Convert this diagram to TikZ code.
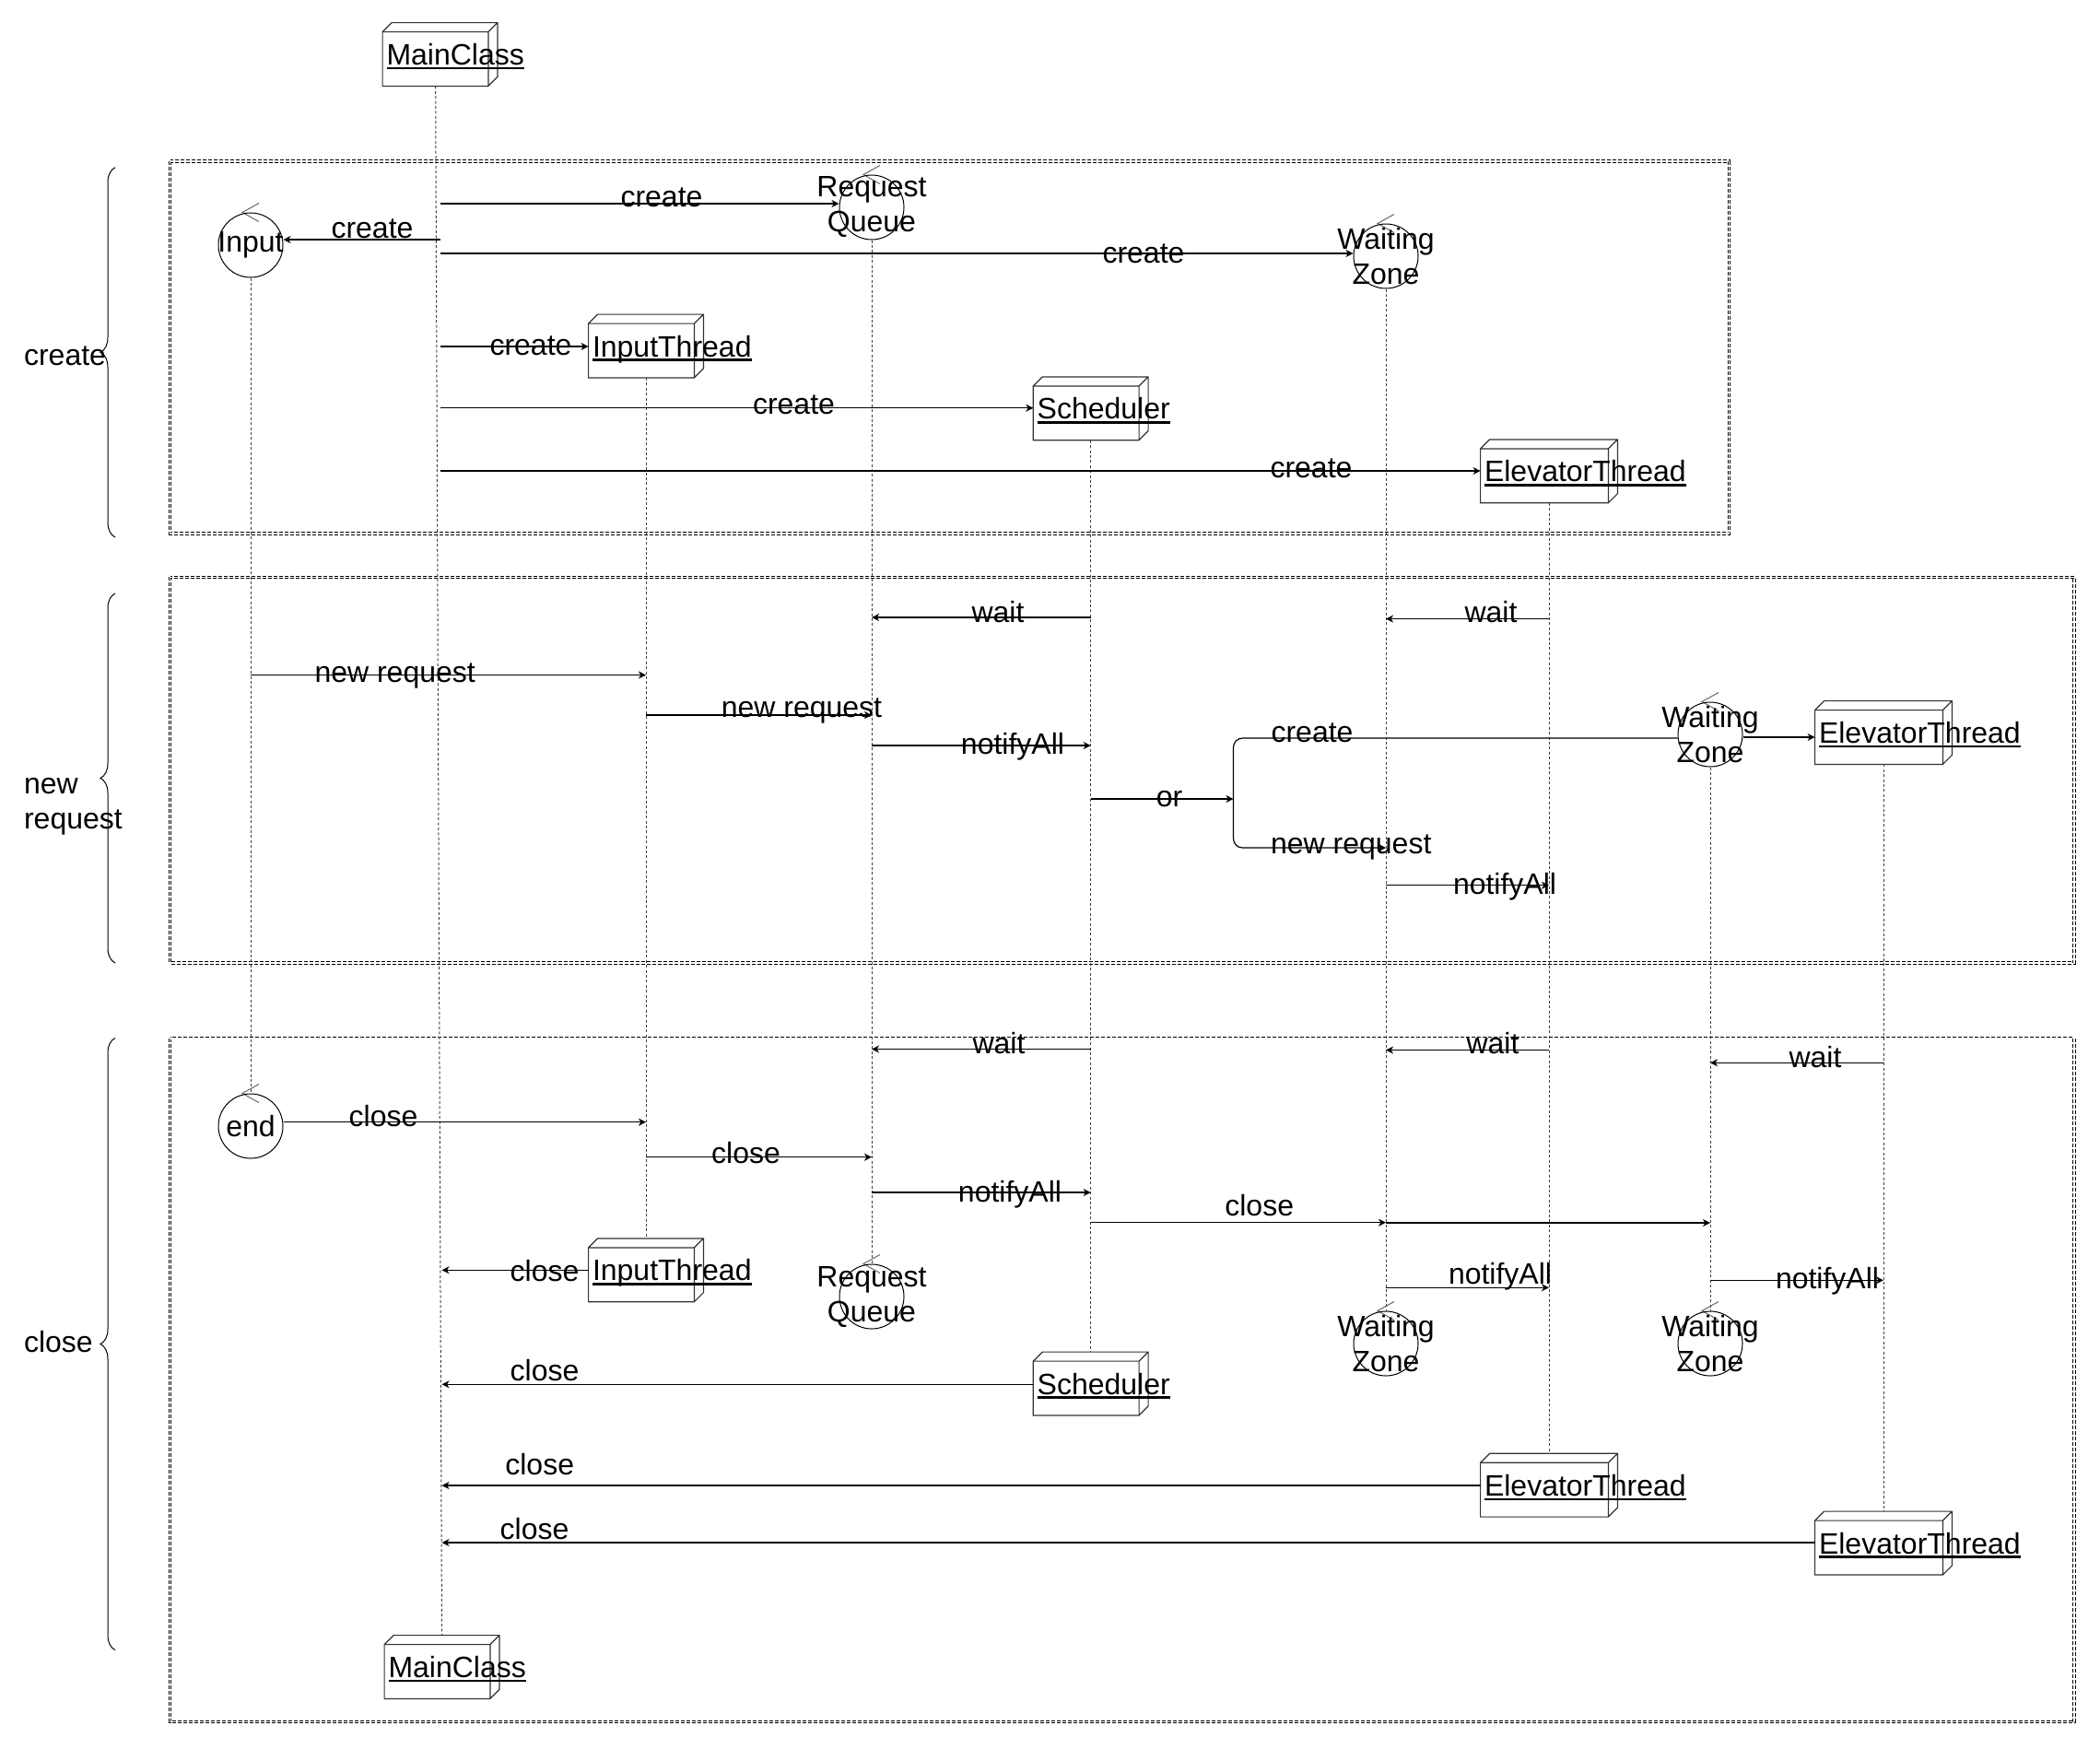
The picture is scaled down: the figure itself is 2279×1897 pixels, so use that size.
\documentclass[tikz,border=0pt]{standalone}
\usepackage{fontspec}
\setmainfont{Liberation Sans}
\usetikzlibrary{arrows.meta}
\usetikzlibrary{decorations.pathreplacing}

\newcommand{\objname}[1]{\hspace*{2pt}\setbox0\hbox{#1}\rlap{\rule[-2.35pt]{\wd0}{1.2pt}}\box0}

\tikzset{
  obj/.style={text width=#1, inner sep=0pt, minimum height=34pt, text height=11.5pt, text depth=0pt, align=left,
    append after command={\pgfextra{\draw[line width=0.6pt, black!80]
      (\tikzlastnode.south west) rectangle ([xshift=-5pt,yshift=-5pt]\tikzlastnode.north east)
      ([yshift=-5pt]\tikzlastnode.north west) -- ([xshift=5pt]\tikzlastnode.north west) -- (\tikzlastnode.north east)
      -- ([yshift=5pt]\tikzlastnode.south east) -- ([xshift=-5pt]\tikzlastnode.south east)
      ([xshift=-5pt,yshift=-5pt]\tikzlastnode.north east) -- (\tikzlastnode.north east);}}},
  obj/.default=62pt,
  ctrl/.style={circle, draw, line width=0.5pt, minimum size=35pt, inner sep=0pt,
    append after command={\pgfextra{\draw[line width=0.5pt, black!60]
      ([xshift=4.5pt,yshift=5pt]\tikzlastnode.north) -- ([xshift=-4.5pt]\tikzlastnode.north)
      -- ([xshift=4.5pt,yshift=-5pt]\tikzlastnode.north);}}},
  life/.style={line width=0.5pt, black!75, dash pattern=on 1.5pt off 1.2pt},
  msg/.style={line width=0.6pt, -{Stealth[length=4pt,width=4pt,inset=1.2pt]}},
  lbl/.style={anchor=base},
  region/.style={draw, double, double distance=0.8pt, line width=0.45pt, dash pattern=on 2pt off 1pt},
  grpbrace/.style={decorate, decoration={brace, amplitude=8pt}, line width=0.5pt},
}

\begin{document}
\begin{tikzpicture}[x=0.5pt, y=-0.5pt, font=\fontsize{16}{19}\selectfont]
  \useasboundingbox (0,0) rectangle (2279,1897);

  \draw[region] (184.6,174.8) rectangle (1876.5,578.8);
  \draw[region] (184.6,626.4) rectangle (2251,1045);
  \draw[region] (184.6,1126.7) rectangle (2251,1868.5);

  \draw[grpbrace] (125,583) -- (125,181.7);
  \draw[grpbrace] (125,1045) -- (125,643.9);
  \draw[grpbrace] (125,1790.6) -- (125,1126.4);
  \node[anchor=base west] (gcreate) at (19,396) {create};
  \node[anchor=base west, align=left] (gnew) at (19,899) {new\\request};
  \node[anchor=base west] (gclose) at (19,1467) {close};

  \node[obj] (mc1) at (477.5,59) {\objname{MainClass}};
  \node[ctrl, label=center:Input] (inp) at (272,266) {};
  \node[ctrl, label={[align=center]center:Request\\Queue}] (rq1) at (946,225) {};
  \node[ctrl, label={[align=center]center:Waiting\\Zone}] (wz1) at (1504,278) {};
  \node[obj] (it1) at (701,375.5) {\objname{InputThread}};
  \node[obj] (sch1) at (1183.7,443.3) {\objname{Scheduler}};
  \node[obj=74pt] (et1) at (1681,511.3) {\objname{ElevatorThread}};
  \node[ctrl, label={[align=center]center:Waiting\\Zone}] (wz2) at (1856,797) {};
  \node[obj=74pt] (et2) at (2044,795) {\objname{ElevatorThread}};
  \node[ctrl, label=center:end] (endc) at (272,1222) {};
  \node[obj] (it2) at (701,1378.3) {\objname{InputThread}};
  \node[ctrl, label={[align=center]center:Request\\Queue}] (rq2) at (946,1407) {};
  \node[ctrl, label={[align=center]center:Waiting\\Zone}] (wz3) at (1504,1458) {};
  \node[ctrl, label={[align=center]center:Waiting\\Zone}] (wz4) at (1856,1458) {};
  \node[obj] (sch2) at (1183.7,1501.5) {\objname{Scheduler}};
  \node[obj=74pt] (et3) at (1681,1611.7) {\objname{ElevatorThread}};
  \node[obj=74pt] (et4) at (2044,1674.5) {\objname{ElevatorThread}};
  \node[obj] (mc2) at (479.5,1809) {\objname{MainClass}};

  \draw[life] ([xshift=-2.4pt]mc1.south) -- (mc2.north);
  \draw[life] (inp.south) -- (endc.north);
  \draw[life] (rq1.south) -- (rq2.north);
  \draw[life] (wz1.south) -- (wz3.north);
  \draw[life] (it1.south) -- (it2.north);
  \draw[life] (sch1.south) -- (sch2.north);
  \draw[life] (et1.south) -- (et3.north);
  \draw[life] (wz2.south) -- (wz4.north);
  \draw[life] (et2.south) -- (et4.north);

  \draw[msg] (mc1 |- 0,260) -- (inp.east |- 0,260);
  \node[lbl] (m1) at (404,258.3) {create};
  \draw[msg] (mc1 |- 0,221) -- (rq1.west |- 0,221);
  \node[lbl] (m2) at (718,224) {create};
  \draw[msg] (mc1 |- 0,275) -- (wz1.west |- 0,275);
  \node[lbl] (m3) at (1241,285) {create};
  \draw[msg] (mc1 |- 0,376) -- (it1.west |- 0,376);
  \node[lbl] (m4) at (576,385) {create};
  \draw[msg] (mc1 |- 0,442.7) -- (sch1.west |- 0,442.7);
  \node[lbl] (m5) at (861.5,449.3) {create};
  \draw[msg] (mc1 |- 0,511) -- (et1.west |- 0,511);
  \node[lbl] (m6) at (1423,518) {create};

  \draw[msg] (sch1 |- 0,670) -- (rq1 |- 0,670);
  \node[lbl] (n1) at (1083,675) {wait};
  \draw[msg] (et1 |- 0,671.5) -- (wz1 |- 0,671.5);
  \node[lbl] (n2) at (1618,675) {wait};
  \draw[msg] (inp |- 0,732.5) -- (it1 |- 0,732.5);
  \node[lbl] (n3) at (428.7,740) {new request};
  \draw[msg] (it1 |- 0,776) -- (rq1 |- 0,776);
  \node[lbl] (n4) at (870,778.3) {new request};
  \draw[msg] (rq1 |- 0,809) -- (sch1 |- 0,809);
  \node[lbl] (n5) at (1099,818.5) {notifyAll};
  \coordinate (fork) at (1338.5,867);
  \draw[msg] (sch1 |- fork) -- (fork);
  \node[lbl] (n6) at (1269,875) {or};
  \draw[msg, rounded corners=5pt] (wz2.west |- 0,801) -| (fork) |- (wz1 |- 0,920);
  \node[lbl] (n7) at (1424,805) {create};
  \node[lbl] (n8) at (1466.3,926.7) {new request};
  \draw[msg] (wz1 |- 0,960.7) -- (et1 |- 0,960.7);
  \node[lbl] (n9) at (1633,970) {notifyAll};
  \draw[msg] (wz2.east |- 0,800) -- (et2.west |- 0,800);

  \draw[msg] (sch1 |- 0,1138.5) -- (rq1 |- 0,1138.5);
  \node[lbl] (c1) at (1084,1143) {wait};
  \draw[msg] (et1 |- 0,1139.5) -- (wz1 |- 0,1139.5);
  \node[lbl] (c2) at (1620,1143) {wait};
  \draw[msg] (et2 |- 0,1153.3) -- (wz2 |- 0,1153.3);
  \node[lbl] (c3) at (1970,1158) {wait};
  \draw[msg] (endc.east |- 0,1217.7) -- (it1 |- 0,1217.7);
  \node[lbl] (c4) at (416,1222.7) {close};
  \draw[msg] (it1 |- 0,1255.7) -- (rq1 |- 0,1255.7);
  \node[lbl] (c5) at (809.5,1262) {close};
  \draw[msg] (rq1 |- 0,1294) -- (sch1 |- 0,1294);
  \node[lbl] (c6) at (1096,1304) {notifyAll};
  \draw[msg] (sch1 |- 0,1326.7) -- (wz1 |- 0,1326.7);
  \node[lbl] (c7) at (1366.7,1319.3) {close};
  \draw[msg] (wz1 |- 0,1327) -- (wz2 |- 0,1327);
  \draw[msg] (it2.west |- 0,1378.3) -- (mc2 |- 0,1378.3);
  \node[lbl] (c8) at (591,1390.7) {close};
  \draw[msg] (wz1 |- 0,1397.3) -- (et1 |- 0,1397.3);
  \node[lbl] (c9) at (1628,1393) {notifyAll};
  \draw[msg] (wz2 |- 0,1389.3) -- (et2 |- 0,1389.3);
  \node[lbl] (c10) at (1983,1398) {notifyAll};
  \draw[msg] (sch2.west |- 0,1502.3) -- (mc2 |- 0,1502.3);
  \node[lbl] (c11) at (591,1498) {close};
  \draw[msg] (et3.west |- 0,1612) -- (mc2 |- 0,1612);
  \node[lbl] (c12) at (585.7,1600.5) {close};
  \draw[msg] (et4.west |- 0,1674) -- (mc2 |- 0,1674);
  \node[lbl] (c13) at (580,1670) {close};
\end{tikzpicture}
\end{document}
